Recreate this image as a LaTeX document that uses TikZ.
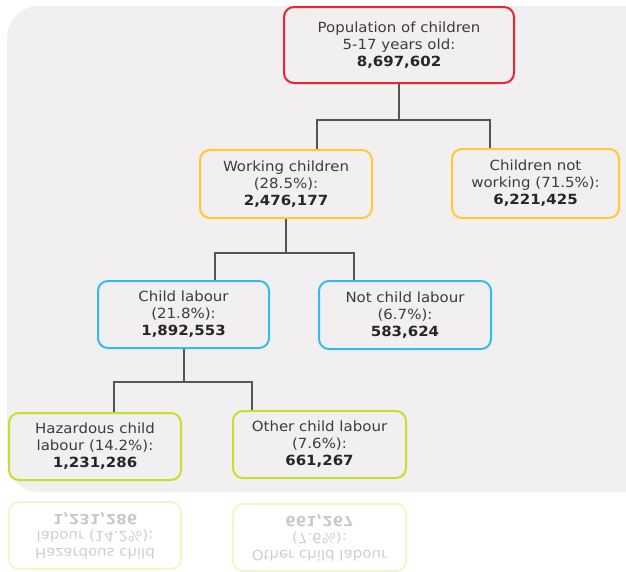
\documentclass[tikz,border=0pt]{standalone}
\usepackage{fontspec}
\setmainfont[FakeStretch=1.07]{DejaVu Sans}
\definecolor{bgc}{HTML}{F2EFF0}
\definecolor{cred}{HTML}{EE2230}
\definecolor{cyel}{HTML}{FFC933}
\definecolor{cblue}{HTML}{33BBEE}
\definecolor{cgreen}{HTML}{C8DF2A}
\definecolor{ctext}{HTML}{3C3C3C}
\definecolor{cline}{HTML}{555555}
\tikzset{
  box/.style={draw, line width=2pt, rounded corners=10pt, fill=bgc, align=center,
    inner sep=0pt, text=ctext, font=\fontsize{14}{17}\selectfont},
  redbox/.style={box, draw=cred},
  yelbox/.style={box, draw=cyel},
  bluebox/.style={box, draw=cblue},
  grnbox/.style={box, draw=cgreen},
  conn/.style={draw=cline, line width=1.6pt},
}
\newcommand{\num}[1]{\textbf{\color{black!85}#1}}
\begin{document}
\begin{tikzpicture}[x=1pt,y=-1pt]
\useasboundingbox (0,0) rectangle (626,571);
\begin{scope}
\clip (0,0) rectangle (626,571);
\fill[bgc, rounded corners=32pt] (7,6) -- (7,492) -- (680,492) -- (680,6) -- cycle;
\end{scope}
\coordinate (y1) at (0,120);
\coordinate (y2) at (0,253);
\coordinate (y3) at (0,382);
% nodes
\node[redbox, minimum width=230pt, minimum height=76pt] (top) at (399,45)
  {Population of children\\5-17 years old:\\\num{8,697,602}};
\node[yelbox, minimum width=172pt, minimum height=68pt] (work) at (286,184)
  {Working children\\(28.5\%):\\\num{2,476,177}};
\node[yelbox, minimum width=167pt, minimum height=69pt] (notwork) at (535.5,183.5)
  {Children not\\working (71.5\%):\\\num{6,221,425}};
\node[bluebox, minimum width=171pt, minimum height=67pt] (cl) at (183.5,314.5)
  {Child labour\\(21.8\%):\\\num{1,892,553}};
\node[bluebox, minimum width=172pt, minimum height=68pt] (ncl) at (405,315)
  {Not child labour\\(6.7\%):\\\num{583,624}};
\node[grnbox, minimum width=172pt, minimum height=67pt] (haz) at (95,446.5)
  {Hazardous child\\labour (14.2\%):\\\num{1,231,286}};
\node[grnbox, minimum width=173pt, minimum height=67pt] (other) at (319.5,444.5)
  {Other child labour\\(7.6\%):\\\num{661,267}};
% connectors
\draw[conn] (top.south) -- (top.south |- y1);
\draw[conn] ([xshift=31pt]work.north) |- (top.south |- y1) -| ([xshift=-45.5pt]notwork.north);
\draw[conn] (work.south) -- (work.south |- y2);
\draw[conn] ([xshift=31.5pt]cl.north) |- (work.south |- y2) -| ([xshift=-51pt]ncl.north);
\draw[conn] ([xshift=0.5pt]cl.south) -- ([xshift=0.5pt]cl.south |- y3);
\draw[conn] ([xshift=19pt]haz.north) |- ([xshift=0.5pt]cl.south |- y3) -| ([xshift=-67.5pt]other.north);
% reflection
\begin{scope}[shift={(0,982)}, yscale=-1, transform shape, opacity=0.25]
\node[grnbox, fill=white, minimum width=172pt, minimum height=67pt] (hazr) at (95,446.5)
  {Hazardous child\\labour (14.2\%):\\\num{1,231,286}};
\node[grnbox, fill=white, minimum width=173pt, minimum height=67pt] (otherr) at (319.5,444.5)
  {Other child labour\\(7.6\%):\\\num{661,267}};
\end{scope}
\end{tikzpicture}
\end{document}
